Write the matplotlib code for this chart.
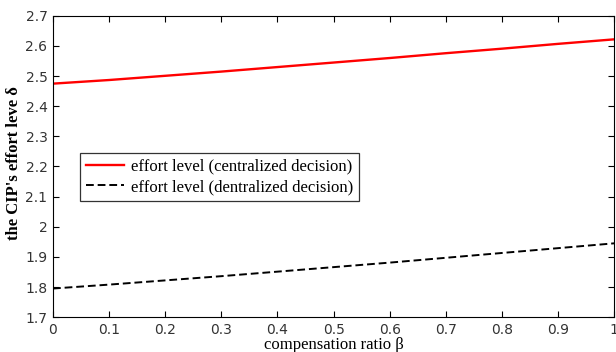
import matplotlib
matplotlib.use("Agg")
import matplotlib.pyplot as plt
import numpy as np

beta = [0.0, 0.1, 0.2, 0.3, 0.4, 0.5, 0.6, 0.7, 0.8, 0.9, 1.0]
centralized = [2.475, 2.487, 2.501, 2.515, 2.530, 2.545, 2.560, 2.576, 2.591, 2.607, 2.622]
decentralized = [1.795, 1.808, 1.822, 1.836, 1.851, 1.866, 1.881, 1.897, 1.913, 1.929, 1.945]
xtick_labels = ["0", "0.1", "0.2", "0.3", "0.4", "0.5", "0.6", "0.7", "0.8", "0.9", "1"]
ytick_labels = ["1.7", "1.8", "1.9", "2", "2.1", "2.2", "2.3", "2.4", "2.5", "2.6", "2.7"]

fig = plt.figure(figsize=(6.16, 3.52), dpi=100)
ax = fig.add_axes([0.086, 0.099, 0.911, 0.856])
ax.plot(beta, centralized, color="#ff0000", lw=1.7, label="effort level (centralized decision)")
ax.plot(beta, decentralized, color="black", lw=1.4, ls=(0, (4, 2)), label="effort level (dentralized decision)")
ax.set_xlim(0, 1)
ax.set_ylim(1.7, 2.7)
ax.set_xticks(np.arange(0, 1.01, 0.1))
ax.set_xticklabels(xtick_labels)
ax.set_yticks(np.arange(1.7, 2.71, 0.1))
ax.set_yticklabels(ytick_labels)
ax.tick_params(direction="in", top=True, right=True, labelsize=10, length=4, pad=4)
for lab in ax.get_xticklabels() + ax.get_yticklabels():
    lab.set_family("Liberation Sans Narrow")
    lab.set_color("#333333")
ax.set_xlabel("compensation ratio β", family="Liberation Serif", fontsize=12, labelpad=0)
ax.set_ylabel("the CIP's effort leve δ", family="Liberation Serif", fontsize=12, fontweight="bold")
ax.yaxis.set_label_coords(-0.055, 0.512)
leg = ax.legend(loc="upper left", bbox_to_anchor=(0.048, 0.545), borderaxespad=0,
                prop={"family": "Liberation Serif", "size": 12},
                frameon=True, fancybox=False, edgecolor="black", handlelength=2.3, borderpad=0.35,
                labelspacing=0.25, handletextpad=0.4)
leg.get_frame().set_linewidth(0.9)
fig.savefig("out.png", dpi=100)
